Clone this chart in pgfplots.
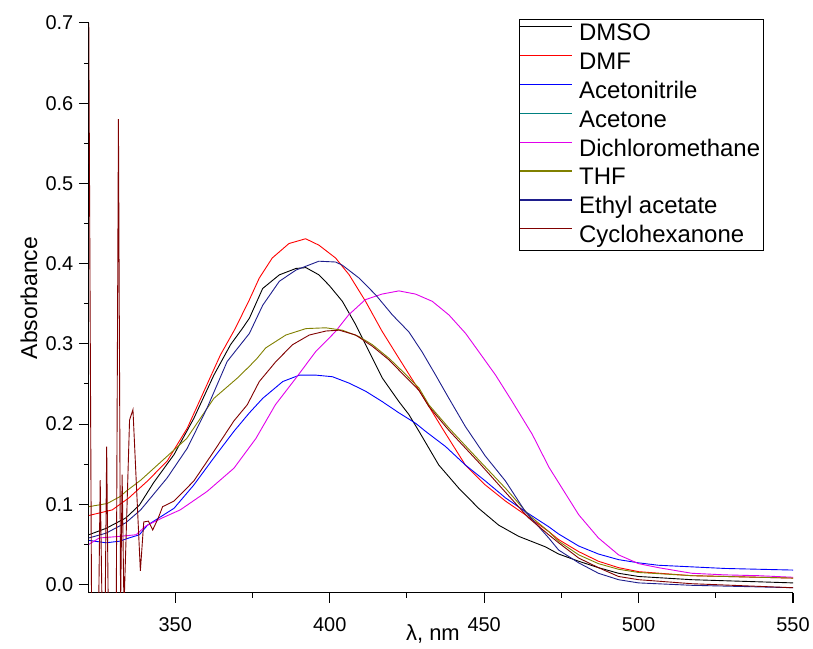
\documentclass[border=0pt]{standalone}
\usepackage{pgfplots}
\pgfplotsset{compat=1.18}
\usepackage{fontspec}
\setmainfont{Liberation Sans}
\definecolor{dmso}{RGB}{0,0,0}
\definecolor{dmf}{RGB}{255,0,0}
\definecolor{acn}{RGB}{0,0,255}
\definecolor{acetone}{RGB}{0,128,128}
\definecolor{dcm}{RGB}{225,0,235}
\definecolor{thf}{RGB}{128,128,0}
\definecolor{etac}{RGB}{30,30,140}
\definecolor{cyclo}{RGB}{128,0,0}
\begin{document}
\begin{tikzpicture}
\begin{axis}[
  scale only axis,
  width=706pt, height=571pt,
  xmin=322, xmax=550, ymin=-0.01, ymax=0.7,
  axis x line=bottom, axis y line=left,
  axis line style={-, line width=1.3pt},
  tick align=outside,
  xtick={350,400,450,500,550},
  ytick={0,0.1,0.2,0.3,0.4,0.5,0.6,0.7},
  minor x tick num=1, minor y tick num=1,
  major tick length=10pt, minor tick length=5pt,
  every tick/.style={black, line width=1.1pt},
  yticklabel style={/pgf/number format/fixed, /pgf/number format/fixed zerofill, /pgf/number format/precision=1, xshift=-2pt},
  /pgf/number format/assume math mode=true,
  tick label style={font=\fontsize{20}{24}\selectfont},
  xticklabel style={anchor=north, yshift=-12pt},
  xlabel={λ, nm}, ylabel={Absorbance},
  label style={font=\fontsize{22}{26}\selectfont},
  xlabel style={at={(axis description cs:0.483,0)}, anchor=north, yshift=-29pt, xshift=4pt},
  ylabel style={at={(axis description cs:0,0.517)}, anchor=south, yshift=48pt, font=\fontsize{23}{26}\selectfont},
  legend style={at={(0.6105,1.007)}, anchor=north west, draw=black, line width=0.9pt,
    font=\fontsize{24}{26}\selectfont, inner sep=0pt, row sep=0pt,
    nodes={text height=18pt, text depth=5pt, inner ysep=3pt, inner xsep=3pt},
    /tikz/every odd column/.append style={column sep=4pt}},
  legend cell align=left,
  legend image code/.code={\draw[#1, line width=1.1pt] (5pt,7.5pt) -- (57pt,7.5pt);},
  every axis plot/.append style={line width=0.9pt},
]
% DMSO
\addplot[dmso] coordinates {(322,0.062)(327.6,0.070)(334,0.083)(338.4,0.099)(343,0.127)(349.6,0.162)(356,0.207)(362.5,0.261)(367.9,0.299)(371.7,0.319)(374,0.332)(378.3,0.369)(383.7,0.386)(389.1,0.394)(392.3,0.395)(396.5,0.386)(399.8,0.373)(404.1,0.353)(408.4,0.324)(412.8,0.290)(417.1,0.257)(422.4,0.228)(425.6,0.212)(428.9,0.191)(435.3,0.149)(441.8,0.120)(448.2,0.095)(454.7,0.074)(461.2,0.060)(469.8,0.047)(474.1,0.038)(480.6,0.029)(487,0.021)(493.5,0.014)(500,0.010)(517.2,0.006)(550,0.002)};
\addlegendentry{DMSO}
% DMF
\addplot[dmf] coordinates {(322,0.086)(329.6,0.093)(335,0.108)(341,0.129)(347.4,0.154)(353.9,0.195)(359.3,0.241)(364.6,0.286)(369.4,0.319)(374,0.355)(377.2,0.382)(381.4,0.407)(386.8,0.425)(392.2,0.431)(396.5,0.423)(401.9,0.407)(406.3,0.386)(411.6,0.353)(416.9,0.316)(422.4,0.282)(427.8,0.249)(431,0.229)(436.4,0.195)(443.9,0.149)(450.4,0.124)(456.9,0.104)(463.3,0.087)(470.9,0.066)(474.1,0.056)(480.6,0.041)(487,0.029)(493.5,0.021)(500,0.016)(517.2,0.011)(550,0.008)};
\addlegendentry{DMF}
% Acetonitrile
\addplot[acn] coordinates {(322,0.055)(327.6,0.052)(332,0.054)(335,0.058)(338.4,0.062)(341,0.074)(349.6,0.095)(356,0.124)(362.5,0.158)(369,0.191)(374,0.214)(378.3,0.232)(384.8,0.253)(390.2,0.261)(395.5,0.261)(400.9,0.259)(406.3,0.251)(411.6,0.241)(417,0.228)(422.4,0.214)(427.8,0.201)(431,0.191)(437.5,0.172)(443.9,0.149)(450.4,0.129)(456.9,0.108)(463.3,0.091)(470.9,0.072)(474.1,0.063)(480.6,0.048)(487,0.038)(493.5,0.031)(500,0.027)(506.4,0.024)(517.2,0.022)(528,0.020)(550,0.018)};
\addlegendentry{Acetonitrile}
% Acetone (not visible in the plot)
\addlegendimage{acetone}
\addlegendentry{Acetone}
% Dichloromethane
\addplot[dcm] coordinates {(322,0.050)(325.4,0.058)(332,0.060)(337.3,0.062)(340.5,0.073)(345.8,0.083)(351.6,0.093)(360.3,0.116)(369,0.145)(376.1,0.182)(382.4,0.224)(389,0.257)(395.4,0.290)(401.8,0.315)(406.1,0.336)(411.5,0.355)(416.9,0.362)(422.4,0.366)(427.8,0.362)(433.2,0.353)(438.6,0.336)(444,0.313)(448.3,0.290)(453.7,0.261)(459.1,0.228)(465.6,0.187)(471,0.146)(474.1,0.127)(480.6,0.087)(487,0.058)(493.5,0.037)(500,0.026)(506.4,0.021)(517.2,0.014)(528,0.012)(538.8,0.011)(550,0.009)};
\addlegendentry{Dichloromethane}
% THF
\addplot[thf] coordinates {(322,0.097)(328,0.101)(332.3,0.110)(334,0.116)(338.8,0.130)(347.4,0.160)(353.7,0.182)(362.5,0.232)(370,0.257)(374,0.272)(376.5,0.282)(379.3,0.295)(385.8,0.311)(392.3,0.319)(398.7,0.320)(404.1,0.317)(409.5,0.309)(413.8,0.299)(419.2,0.282)(423.5,0.266)(428.9,0.245)(432.1,0.224)(438.6,0.195)(448.3,0.155)(456.9,0.120)(464.4,0.087)(470.9,0.066)(474.1,0.054)(480.6,0.037)(487,0.026)(493.5,0.019)(500,0.015)(517.2,0.011)(550,0.008)};
\addlegendentry{THF}
% Ethyl acetate
\addplot[etac] coordinates {(322,0.058)(327.6,0.064)(332,0.073)(334,0.077)(338.8,0.093)(347.4,0.133)(353.9,0.170)(360.3,0.220)(366.8,0.278)(374,0.313)(378.3,0.348)(383.7,0.378)(389.1,0.392)(396.5,0.403)(401.9,0.402)(404.1,0.398)(409.5,0.382)(414.9,0.361)(420.3,0.336)(425.6,0.315)(429.9,0.290)(434.3,0.261)(438.6,0.232)(443.9,0.197)(450.4,0.160)(456.9,0.129)(463.3,0.091)(470.9,0.058)(474.1,0.043)(480.6,0.027)(487,0.014)(493.5,0.006)(500,0.002)(517.2,-0.001)(550,-0.004)};
\addlegendentry{Ethyl acetate}
% Cyclohexanone
\addplot[cyclo] coordinates {(322,0.70)(322.9,-0.03)(325.2,-0.03)(325.7,0.130)(326.3,-0.03)(327.3,-0.03)(327.8,0.172)(328.3,-0.03)(330.9,-0.03)(331.6,0.58)(332.3,-0.03)(332.8,0.137)(333.4,-0.03)(335.2,0.205)(336.3,0.218)(338.7,0.017)(339.8,0.078)(341.3,0.079)(342.7,0.068)(344.5,0.083)(345.9,0.097)(349.6,0.104)(356,0.129)(362.5,0.166)(369,0.204)(373.3,0.224)(377.2,0.253)(382.6,0.278)(388,0.299)(393.4,0.311)(398.8,0.316)(403.1,0.317)(408.4,0.311)(413.8,0.297)(419.2,0.280)(423.5,0.263)(428.9,0.242)(432.1,0.222)(438.6,0.192)(448.3,0.152)(456.9,0.115)(464.4,0.083)(470.9,0.062)(474.1,0.052)(480.6,0.033)(487,0.021)(493.5,0.010)(500,0.006)(517.2,0.001)(550,-0.004)};
\addlegendentry{Cyclohexanone}
\end{axis}
\path (current axis.south west) ++(-89pt,-56pt) rectangle ++(813pt,650pt);
\end{tikzpicture}
\end{document}
